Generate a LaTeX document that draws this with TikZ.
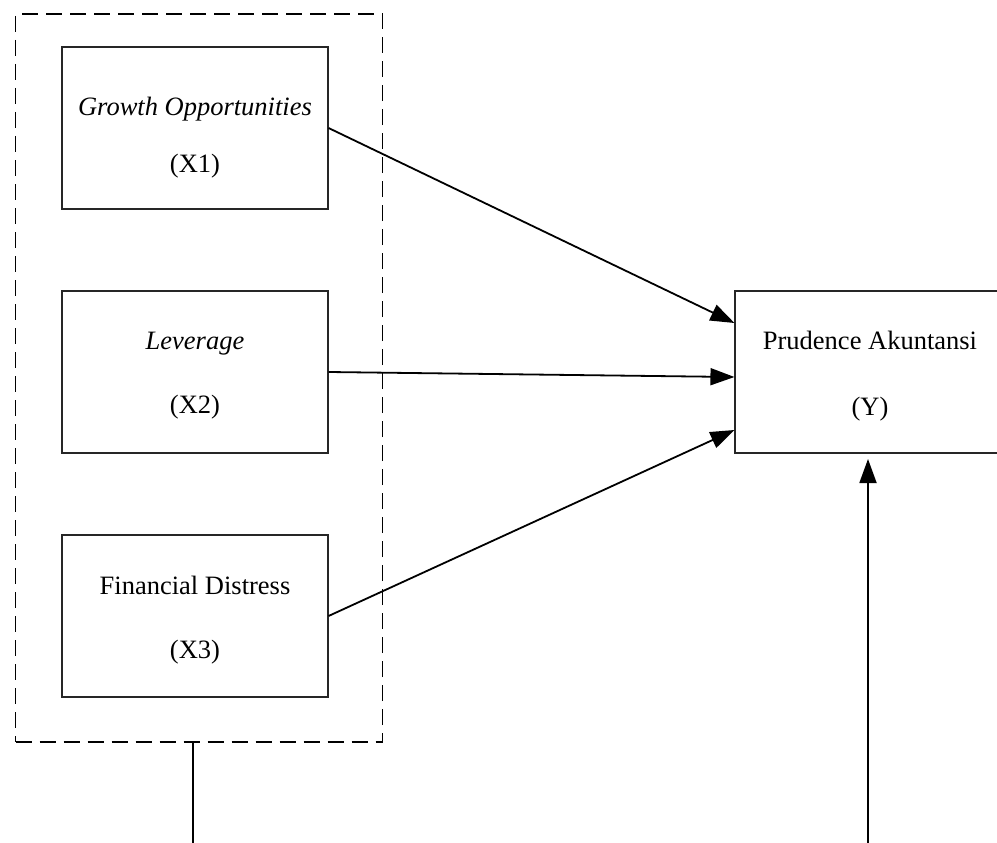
\documentclass[tikz,border=0pt]{standalone}
\usepackage{fontspec}
\setmainfont{Liberation Serif}
\usetikzlibrary{arrows.meta}
\begin{document}
\begin{tikzpicture}[x=1pt,y=-1pt,
  varbox/.style={draw=black!85,line width=1.1pt,minimum width=266pt,minimum height=162pt,inner sep=0pt},
  lbl/.style={font=\fontsize{26.5}{30}\selectfont,anchor=base,inner sep=0pt},
  arr/.style={line width=1.8pt,-{Triangle[length=24pt,width=17pt]}},
  plain/.style={line width=1.8pt},
  dashbox/.style={draw,line width=1.8pt,dash pattern=on 16pt off 8pt}]
\useasboundingbox (0,0) rectangle (997,843);
\node[dashbox,minimum width=367pt,minimum height=728pt,inner sep=0pt] (grp) at (199,378) {};
\node[varbox] (X1) at (195,128) {};
\node[varbox] (X2) at (195,372) {};
\node[varbox] (X3) at (195,616) {};
\node[varbox,minimum width=270pt] (Y) at (870,372) {};
\node[lbl] (t1a) at (195,115) {\itshape Growth Opportunities};
\node[lbl] (t1b) at (195,172) {(X1)};
\node[lbl] (t2a) at (195,349) {\itshape Leverage};
\node[lbl] (t2b) at (195,413) {(X2)};
\node[lbl] (t3a) at (195,594) {Financial Distress};
\node[lbl] (t3b) at (195,658) {(X3)};
\node[lbl] (tya) at (870,349) {Prudence Akuntansi};
\node[lbl] (tyb) at (870,415) {(Y)};
\draw[arr] (X1.east) -- ([yshift=49pt]Y.west);
\draw[arr] (X2.east) -- ([yshift=-5pt]Y.west);
\draw[arr] (X3.east) -- ([yshift=-58pt]Y.west);
\coordinate (b1) at (193,843);
\coordinate (b2) at (868,843);
\coordinate (t2) at (868,459);
\draw[plain] (b1) -- (b1 |- grp.south);
\draw[arr] (b2) -- (t2);
\end{tikzpicture}
\end{document}
